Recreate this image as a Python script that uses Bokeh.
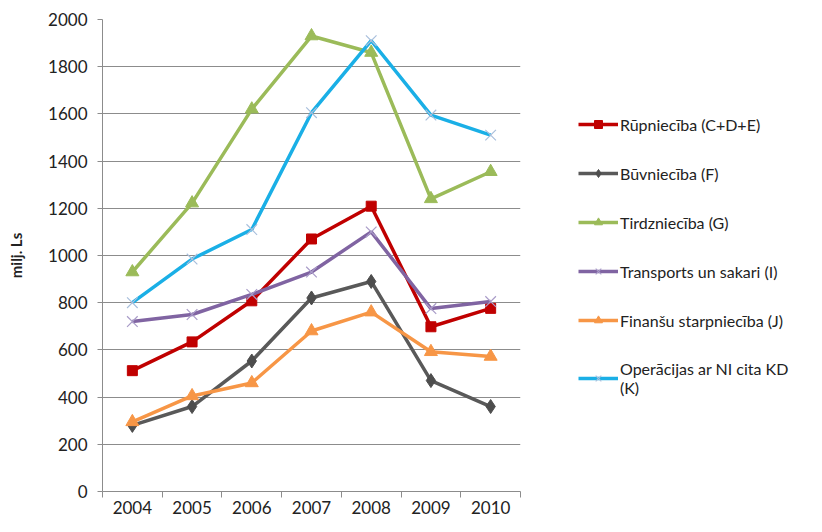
from bokeh.plotting import figure
from bokeh.models import FixedTicker, Legend, LegendItem, Range1d
from bokeh.embed import file_html
from bokeh.resources import INLINE

years = ["2004", "2005", "2006", "2007", "2008", "2009", "2010"]
rupnieciba = [512, 634, 808, 1070, 1209, 698, 776]
buvnieciba = [280, 360, 553, 820, 890, 470, 360]
tirdznieciba = [930, 1222, 1620, 1930, 1860, 1240, 1355]
transports = [720, 750, 835, 930, 1100, 775, 805]
finansu = [295, 405, 460, 680, 760, 592, 572]
operacijas = [800, 985, 1110, 1605, 1910, 1595, 1510]

y_ticks = [0, 200, 400, 600, 800, 1000, 1200, 1400, 1600, 1800, 2000]

FONT = "Lato"
GRID = "#8c8c8c"

xs = [i + 0.5 for i in range(len(years))]

p = figure(frame_width=418, frame_height=472, output_backend="svg", toolbar_location=None,
           x_range=Range1d(0, len(years)), y_range=Range1d(0, 2000),
           min_border_left=102, min_border_top=19, min_border_right=0, min_border_bottom=25)
p.outline_line_color = None
p.background_fill_color = "white"
p.border_fill_color = "white"

p.xgrid.grid_line_color = None
p.ygrid.grid_line_color = GRID
p.ygrid.grid_line_width = 1

p.xaxis.ticker = FixedTicker(ticks=xs, minor_ticks=list(range(len(years) + 1)))
p.xaxis.major_label_overrides = {x: y for x, y in zip(xs, years)}
p.xaxis.major_tick_line_color = None
p.xaxis.major_tick_out = 0
p.xaxis.major_tick_in = 0
p.xaxis.minor_tick_line_color = GRID
p.xaxis.minor_tick_out = 6
p.xaxis.minor_tick_in = 0
p.xaxis.axis_line_color = GRID
p.xaxis.major_label_standoff = 3
p.xaxis.major_label_text_font = FONT
p.xaxis.major_label_text_font_size = "17px"
p.xaxis.major_label_text_color = "#222222"

p.yaxis.ticker = FixedTicker(ticks=y_ticks, minor_ticks=[])
p.yaxis.axis_line_color = GRID
p.yaxis.major_tick_line_color = GRID
p.yaxis.major_tick_out = 5
p.yaxis.major_tick_in = 0
p.yaxis.major_label_standoff = 10
p.yaxis.major_label_text_font = FONT
p.yaxis.major_label_text_font_size = "17px"
p.yaxis.major_label_text_color = "#222222"
p.yaxis.axis_label = "milj. Ls"
p.yaxis.axis_label_text_font = FONT
p.yaxis.axis_label_text_font_style = "bold"
p.yaxis.axis_label_text_font_size = "15px"
p.yaxis.axis_label_text_color = "#222222"
p.yaxis.axis_label_standoff = 20

LW = 3.5
items = []

r1 = p.line(xs, rupnieciba, line_color="#C00000", line_width=LW)
m1 = p.scatter(xs, rupnieciba, marker="square", size=10, fill_color="#C00000", line_color="#C00000")
items.append(LegendItem(label="Rūpniecība (C+D+E)", renderers=[r1, m1]))

r2 = p.line(xs, buvnieciba, line_color="#595959", line_width=LW)
m2 = p.scatter(xs, buvnieciba, marker="diamond", size=14, fill_color="#4d4d4d", line_color="#4d4d4d")
items.append(LegendItem(label="Būvniecība (F)", renderers=[r2, m2]))

r3 = p.line(xs, tirdznieciba, line_color="#9BBB59", line_width=LW)
m3 = p.scatter(xs, tirdznieciba, marker="triangle", size=13, fill_color="#9BBB59", line_color="#9BBB59")
items.append(LegendItem(label="Tirdzniecība (G)", renderers=[r3, m3]))

r4 = p.line(xs, transports, line_color="#8064A2", line_width=LW)
m4 = p.scatter(xs, transports, marker="x", size=15, line_color="#a99cc8", line_width=1.2)
items.append(LegendItem(label="Transports un sakari (I)", renderers=[r4, m4]))

r5 = p.line(xs, finansu, line_color="#F79646", line_width=LW)
m5 = p.scatter(xs, finansu, marker="triangle", size=13, fill_color="#F79646", line_color="#F79646")
items.append(LegendItem(label="Finanšu starpniecība (J)", renderers=[r5, m5]))

r6 = p.line(xs, operacijas, line_color="#1AAFE6", line_width=LW)
m6 = p.scatter(xs, operacijas, marker="x", size=15, line_color="#a9bfdc", line_width=1.2)
items.append(LegendItem(label="Operācijas ar NI cita KD\n(K)", renderers=[r6, m6]))

legend = Legend(items=items, location=(58, 94))
legend.border_line_color = None
legend.background_fill_alpha = 0
legend.label_text_font = FONT
legend.label_text_font_size = "16px"
legend.label_text_color = "#222222"
legend.glyph_width = 40
legend.glyph_height = 20
legend.label_height = 20
legend.label_standoff = 2
legend.spacing = 29
legend.padding = 0
legend.margin = 0
p.add_layout(legend, "right")

open("out.html", "w").write(file_html(p, INLINE))
